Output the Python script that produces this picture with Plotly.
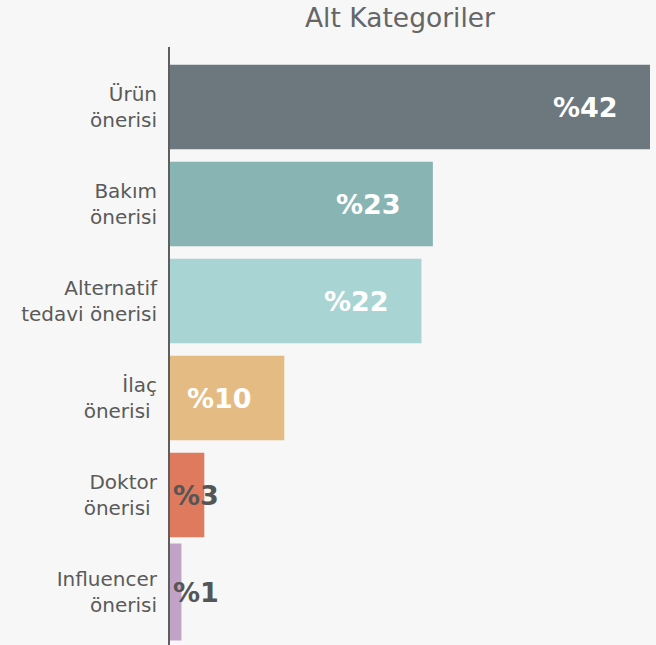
import plotly.graph_objects as go

categories = ["Ürün<br>önerisi", "Bakım<br>önerisi", "Alternatif<br>tedavi önerisi",
              "İlaç<br>önerisi ", "Doktor<br>önerisi ", "Influencer<br>önerisi"]
values = [42, 23, 22, 10, 3, 1]
labels = ["%42", "%23", "%22", "%10", "%3", "%1"]
colors = ["#6c777e", "#88b5b4", "#a9d4d4", "#e5bb84", "#e07a5f", "#c1a3c8"]
label_colors = ["#ffffff", "#ffffff", "#ffffff", "#ffffff", "#555555", "#555555"]
widths = [0.87, 0.87, 0.87, 0.87, 0.87, 1.0]

FONT = "'DejaVu Sans', sans-serif"

fig = go.Figure()
fig.add_trace(go.Bar(
    y=categories, x=values, orientation="h",
    marker=dict(color=colors, line=dict(width=0)),
    width=widths, hoverinfo="skip",
))

for c, v, t, col in zip(categories, values, labels, label_colors):
    inside = v >= 8
    fig.add_annotation(
        x=v if inside else 0, y=c, xref="x", yref="y",
        text=t, showarrow=False,
        xanchor="right" if inside else "left",
        xshift=-30 if inside else 1,
        font=dict(family=FONT, size=27, color=col, weight="bold"),
    )

fig.update_layout(
    width=656, height=645,
    paper_bgcolor="#f6f7f6", plot_bgcolor="#f6f7f6",
    margin=dict(l=170, r=6, t=47, b=0),
    showlegend=False,
    title=dict(text="Alt Kategoriler", x=400 / 656, xanchor="center", xref="container",
               y=1 - 18 / 645, yanchor="middle", yref="container",
               font=dict(family=FONT, size=26.5, color="#666666")),
    xaxis=dict(range=[0, 42], visible=False, fixedrange=True),
    yaxis=dict(range=[5.546, -0.619], showline=True, linecolor="#5e5e5e",
               linewidth=2, ticks="", showgrid=False, zeroline=False,
               tickfont=dict(family=FONT, size=20, color="#5a5a5a"),
               ticklabelstandoff=7),
)

fig.write_html("out.html", config={"displayModeBar": False},
               post_script="document.body.style.margin='0';")
